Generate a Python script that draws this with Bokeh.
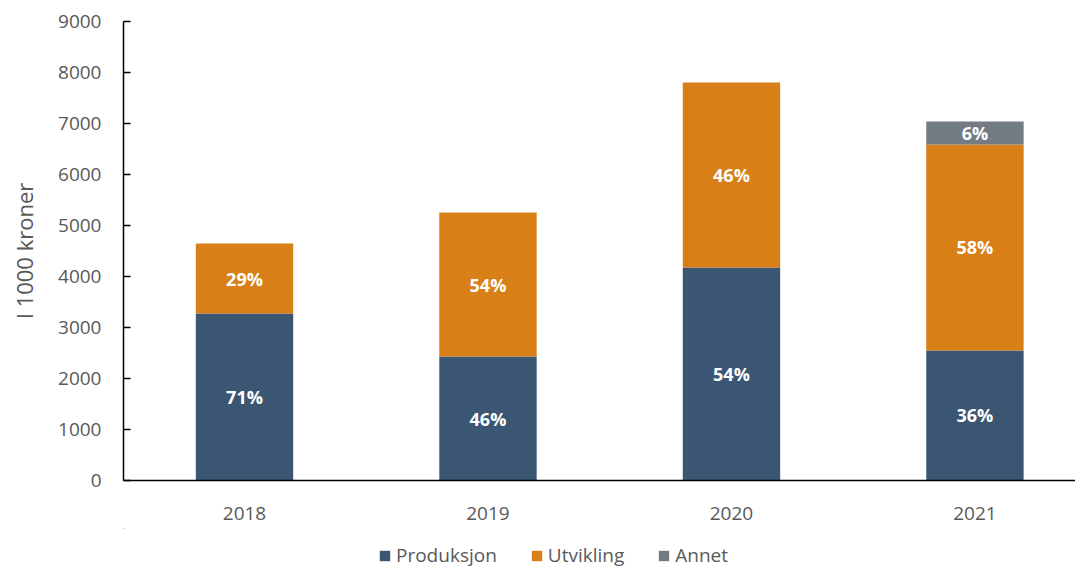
from bokeh.plotting import figure
from bokeh.layouts import column
from bokeh.models import ColumnDataSource, FixedTicker, Legend, LegendItem, Range1d, LabelSet
from bokeh.embed import file_html
from bokeh.resources import INLINE
from bokeh.core.properties import value

years = ["2018", "2019", "2020", "2021"]
produksjon = [3275, 2430, 4175, 2550]
utvikling = [1370, 2825, 3630, 4040]
annet = [0, 0, 0, 450]
pct_prod = ["71%", "46%", "54%", "36%"]
pct_utv = ["29%", "54%", "46%", "58%"]
pct_annet = ["", "", "", "6%"]
series = ["Produksjon", "Utvikling", "Annet"]

FONT = "Open Sans"
GREY = "#595959"
COLORS = ["#3B5673", "#D87F17", "#737B83"]

x = list(range(len(years)))
b1 = [0] * len(years)
t1 = [b + v for b, v in zip(b1, produksjon)]
t2 = [b + v for b, v in zip(t1, utvikling)]
t3 = [b + v for b, v in zip(t2, annet)]

src = ColumnDataSource(dict(
    x=x, b1=b1, t1=t1, t2=t2, t3=t3,
    m1=[(a + b) / 2 for a, b in zip(b1, t1)],
    m2=[(a + b) / 2 for a, b in zip(t1, t2)],
    m3=[(a + b) / 2 for a, b in zip(t2, t3)],
    l1=pct_prod, l2=pct_utv, l3=pct_annet,
))

p = figure(width=1075, height=528, output_backend="svg", toolbar_location=None,
           x_range=Range1d(-0.497, 3.413), y_range=Range1d(0, 9000),
           min_border_left=123, min_border_right=0, min_border_top=21, min_border_bottom=48)
p.outline_line_color = None
p.grid.grid_line_color = None
p.background_fill_color = "white"

w = 0.4
stack = [("b1", "t1"), ("t1", "t2"), ("t2", "t3")]
for (bot, top), c in zip(stack, COLORS):
    p.vbar(x="x", bottom=bot, top=top, width=w, source=src, color=c, line_color=None)

for m, l in (("m1", "l1"), ("m2", "l2"), ("m3", "l3")):
    p.add_layout(LabelSet(x="x", y=m, text=l, source=src, text_align="center",
                          text_baseline="middle", text_color="white",
                          text_font=value(FONT), text_font_size="18px",
                          text_font_style="bold"))

# axes
p.xaxis.ticker = FixedTicker(ticks=x)
p.xaxis.major_label_overrides = {i: y for i, y in enumerate(years)}
p.xaxis.major_tick_line_color = None
p.xaxis.minor_tick_line_color = None
p.xaxis.axis_line_color = "black"
p.xaxis.axis_line_width = 1.5
p.xaxis.major_label_standoff = 20
p.xaxis.major_label_text_font = FONT
p.xaxis.major_label_text_font_size = "19px"
p.xaxis.major_label_text_color = GREY

p.yaxis.ticker = FixedTicker(ticks=list(range(0, 9001, 1000)))
p.yaxis.major_tick_in = 7
p.yaxis.major_tick_out = 0
p.yaxis.minor_tick_line_color = None
p.yaxis.axis_line_color = "black"
p.yaxis.axis_line_width = 1.5
p.yaxis.major_tick_line_color = "black"
p.yaxis.major_tick_line_width = 1.5
p.yaxis.major_label_standoff = 22
p.yaxis.major_label_text_font = FONT
p.yaxis.major_label_text_font_size = "19px"
p.yaxis.major_label_text_color = GREY
p.yaxis.axis_label = "I 1000 kroner"
p.yaxis.axis_label_text_font = FONT
p.yaxis.axis_label_text_font_size = "22px"
p.yaxis.axis_label_text_font_style = "normal"
p.yaxis.axis_label_text_color = GREY
p.yaxis.axis_label_standoff = 16

# legend strip (its frame is aligned with the main frame by the column layout);
# the same stacked series are plotted here but kept entirely outside the visible ranges
lg = figure(width=1075, height=40, output_backend="svg", toolbar_location=None,
            x_range=Range1d(100, 101), y_range=Range1d(-200000, -100000),
            min_border=0, min_border_left=0, min_border_right=0,
            min_border_top=0, min_border_bottom=0)
lg.axis.visible = False
lg.grid.visible = False
lg.outline_line_color = None
items = []
for name, (bot, top), c in zip(series, stack, COLORS):
    r = lg.vbar(x="x", bottom=bot, top=top, width=w, source=src, color=c, line_color=None)
    items.append(LegendItem(label=name, renderers=[r]))
legend = Legend(items=items, orientation="horizontal", location=(255, 0),
                glyph_width=13, glyph_height=13, label_text_font=FONT,
                label_text_font_size="19px", label_text_color=GREY,
                spacing=33, label_standoff=5, padding=0, margin=0,
                border_line_color=None, background_fill_alpha=0)
lg.add_layout(legend, "center")

layout = column(p, lg, spacing=0)
open("out.html", "w").write(file_html(layout, INLINE))
